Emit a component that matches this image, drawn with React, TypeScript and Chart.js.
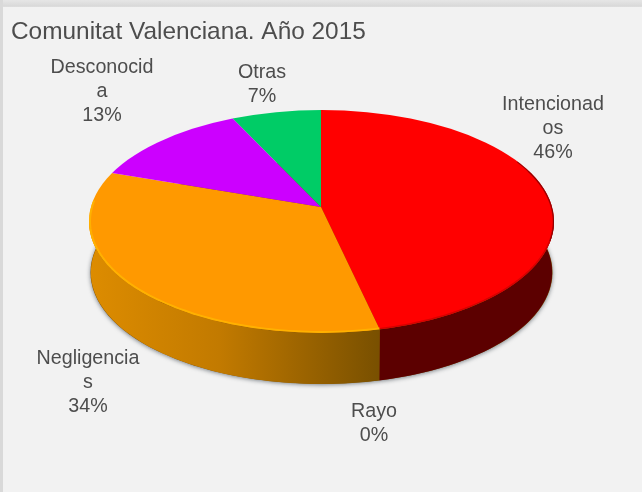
import React, { useEffect, useRef } from "react";
import { Chart, registerables } from "chart.js";

Chart.register(...registerables);

const titleText = "Comunitat Valenciana. Año 2015";
const labelLines = [["Intencionad", "os"], ["Rayo"], ["Negligencia", "s"], ["Desconocid", "a"], ["Otras"]];
const categories = ["Intencionados", "Rayo", "Negligencias", "Desconocida", "Otras"];
const shares = [46.4, 0, 33.8, 12.7, 7.1];
const faceColors = ["#ff0000", "#7f0000", "#ff9900", "#cc00ff", "#00cc66"];
// centre of each data label's text block, in page pixels
const labelCentres = [[553, 129], [374, 424], [88, 383], [102, 92], [262, 85]];

const FONT = "'Liberation Sans', sans-serif";
const TEXT = "#4d4d4d";
const cx = 321.5, cyEllipse = 221.5, rx = 232.5, ry = 111.5; // top face outline
const apexX = 321, apexY = 207, tilt = 0.48; // where the slices meet
const depth = 51;

function rimPoint(angle: number) {
  const dx = Math.cos(angle), dy = tilt * Math.sin(angle);
  const ox = apexX - cx, oy = apexY - cyEllipse;
  const a = (dx * dx) / (rx * rx) + (dy * dy) / (ry * ry);
  const b = 2 * ((ox * dx) / (rx * rx) + (oy * dy) / (ry * ry));
  const c = (ox * ox) / (rx * rx) + (oy * oy) / (ry * ry) - 1;
  const t = (-b + Math.sqrt(b * b - 4 * a * c)) / (2 * a);
  return [apexX + t * dx, apexY + t * dy];
}

function sidePath(ctx: CanvasRenderingContext2D, start: number, end: number) {
  const steps = 80;
  const top: number[][] = [];
  for (let i = 0; i <= steps; i++) top.push(rimPoint(start + ((end - start) * i) / steps));
  ctx.beginPath();
  top.forEach((p, i) => (i ? ctx.lineTo(p[0], p[1]) : ctx.moveTo(p[0], p[1])));
  for (let i = steps; i >= 0; i--) {
    const p = top[i];
    ctx.lineTo(cx + (p[0] - cx) * 0.992, p[1] + depth);
  }
  ctx.closePath();
}

const pie3d = {
  id: "pie3d",
  beforeDraw(chart: any) {
    const { ctx, width, height } = chart;
    ctx.save();
    ctx.fillStyle = "#f2f2f2";
    ctx.fillRect(0, 0, width, height);
    const g = ctx.createLinearGradient(0, 0, 0, 8);
    g.addColorStop(0, "#e6e6e6");
    g.addColorStop(0.75, "#d9d9d9");
    g.addColorStop(1, "#e8e8e8");
    ctx.fillStyle = g;
    ctx.fillRect(0, 0, width, 7);
    ctx.fillStyle = "#d9d9d9";
    ctx.fillRect(0, 0, 3, height);
    ctx.restore();
  },
  beforeDatasetDraw(chart: any, args: any) {
    const { ctx, width, height } = chart;
    const arcs = args.meta.data;
    ctx.save();
    // soft shadow under the drum
    ctx.save();
    ctx.shadowColor = "rgba(40,50,60,0.6)";
    ctx.shadowBlur = 4;
    ctx.shadowOffsetY = 1;
    ctx.fillStyle = "#7f5000";
    ctx.beginPath();
    ctx.ellipse(cx, cyEllipse + depth, rx - 1.5, ry, 0, 0, Math.PI * 2);
    ctx.fill();
    ctx.restore();
    // side walls: only the part below the widest line of the face can show
    ctx.save();
    ctx.beginPath();
    ctx.rect(0, cyEllipse, width, height - cyEllipse);
    ctx.clip();
    arcs.forEach((arc: any, i: number) => {
      if (arc.endAngle - arc.startAngle <= 0) return;
      sidePath(ctx, arc.startAngle, arc.endAngle);
      if (i === 2) {
        const g = ctx.createLinearGradient(cx - rx, 0, 379, 0);
        g.addColorStop(0, "#dd8c00");
        g.addColorStop(0.45, "#c27a00");
        g.addColorStop(1, "#795000");
        ctx.fillStyle = g;
      } else if (i === 0) {
        ctx.fillStyle = "#5c0000";
      } else {
        ctx.fillStyle = "#555555";
      }
      ctx.fill();
    });
    ctx.restore();
    // the library's slices, pressed onto the tilted face
    ctx.beginPath();
    ctx.ellipse(cx, cyEllipse, rx, ry, 0, 0, Math.PI * 2);
    ctx.clip();
    const a0 = arcs[0];
    const grow = 280 / a0.outerRadius;
    ctx.translate(apexX, apexY);
    ctx.scale(grow, grow * tilt);
    ctx.translate(-a0.x, -a0.y);
  },
  afterDatasetDraw(chart: any, args: any) {
    const { ctx } = chart;
    ctx.restore();
    const arcs = args.meta.data;
    // bevel along the rim of the slices facing the viewer
    const rim = (from: number, to: number, color: string, lw: number) => {
      ctx.save();
      ctx.beginPath();
      ctx.ellipse(cx, cyEllipse, rx, ry, 0, 0, Math.PI * 2);
      ctx.clip();
      ctx.strokeStyle = color;
      ctx.lineWidth = lw;
      ctx.beginPath();
      const steps = 80;
      for (let i = 0; i <= steps; i++) {
        const p = rimPoint(from + ((to - from) * i) / steps);
        i ? ctx.lineTo(p[0], p[1]) : ctx.moveTo(p[0], p[1]);
      }
      ctx.stroke();
      ctx.restore();
    };
    rim(arcs[2].startAngle, Math.PI * 1.02, "rgba(255,180,0,0.9)", 4);
    rim(-0.35, arcs[0].endAngle, "rgba(200,0,0,0.75)", 3);
    rim(-0.45, 0.3, "rgba(110,0,0,0.7)", 2);
  },
  afterDraw(chart: any) {
    const { ctx } = chart;
    const total = shares.reduce((a, b) => a + b, 0);
    ctx.save();
    ctx.fillStyle = TEXT;
    ctx.font = `19.7px ${FONT}`;
    ctx.textAlign = "center";
    ctx.textBaseline = "middle";
    categories.forEach((_, i) => {
      const lines = [...labelLines[i], `${Math.round((shares[i] / total) * 100)}%`];
      const [x, y] = labelCentres[i];
      lines.forEach((line, j) => {
        ctx.fillText(line, x, y + (j - (lines.length - 1) / 2) * 24);
      });
    });
    ctx.restore();
  },
};

export default function App() {
  const ref = useRef<HTMLCanvasElement>(null);
  useEffect(() => {
    document.body.style.margin = "0";
    const chart = new Chart(ref.current!, {
      type: "pie",
      data: {
        labels: categories,
        datasets: [{ data: shares, backgroundColor: faceColors, borderWidth: 0 }],
      },
      options: {
        responsive: false,
        animation: false,
        layout: { padding: { left: 11, top: 14, right: 0, bottom: 0 } },
        plugins: {
          legend: { display: false },
          tooltip: { enabled: false },
          title: {
            display: true,
            text: titleText,
            align: "start",
            color: TEXT,
            font: { family: FONT, size: 24.4, weight: "normal" },
            padding: { top: 4, bottom: 4 },
          },
        },
      },
      plugins: [pie3d],
    } as any);
    return () => chart.destroy();
  }, []);
  return <canvas ref={ref} width={642} height={492} style={{ display: "block" }} />;
}
